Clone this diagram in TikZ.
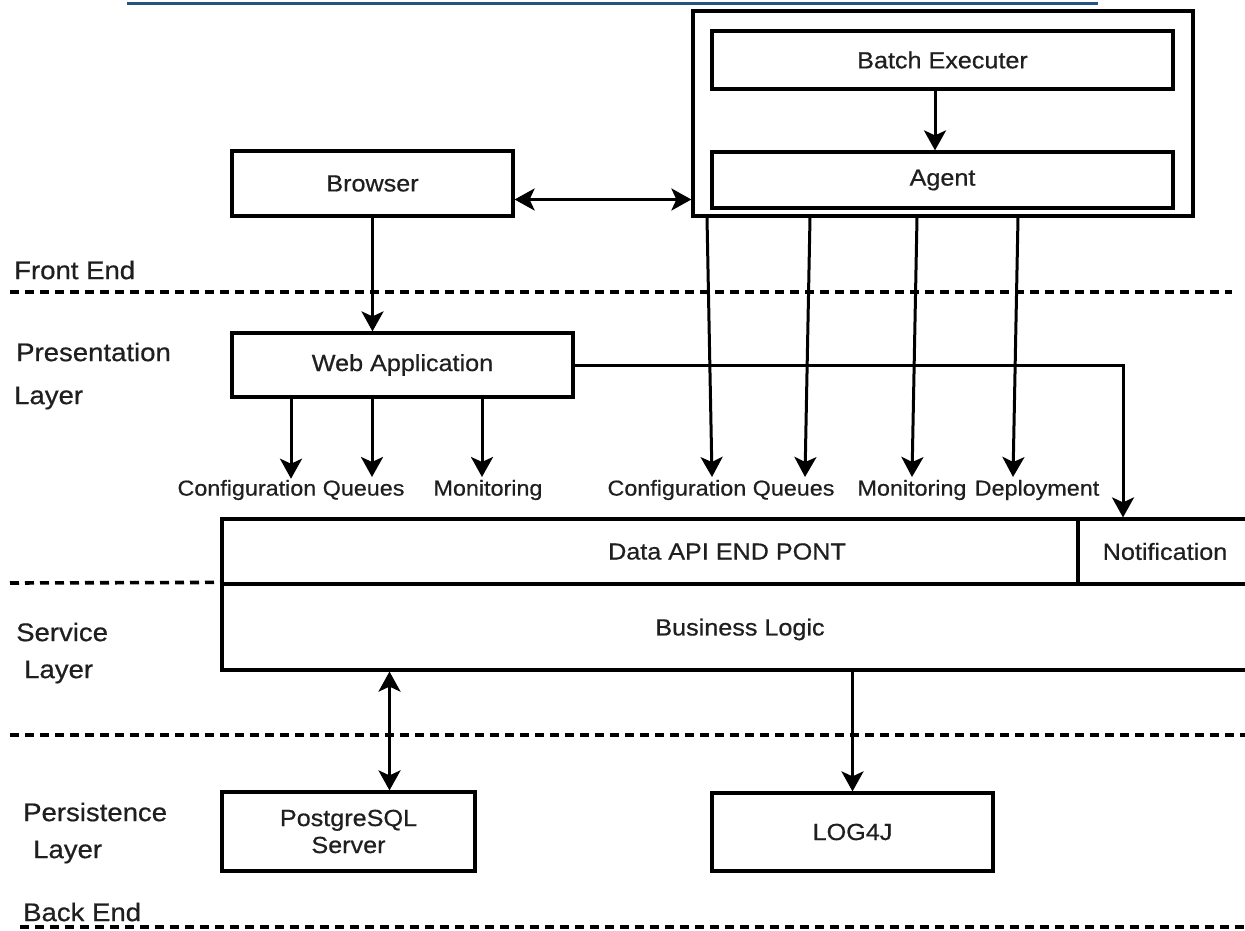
\documentclass[tikz,border=0pt]{standalone}
\usepackage{fontspec}
\setmainfont{Liberation Sans}[FakeStretch=1.08,FakeBold=0.6]
\usetikzlibrary{arrows.meta,calc}
\definecolor{linkblue}{RGB}{38,84,128}
\begin{document}
\begin{tikzpicture}[x=1pt,y=-1pt,
        box/.style={draw,line width=3.2pt,fill=white,inner sep=0pt,text=black!88,font=\fontsize{23.3}{27}\selectfont,align=center},
        lbl/.style={inner sep=1pt,text=black!88,font=\fontsize{21.6}{25}\selectfont},
        layer/.style={inner sep=0pt,anchor=west,text=black!88,font=\fontsize{25.5}{30}\selectfont},
        arr/.style={line width=3pt,-{Stealth[length=20pt,width=22pt,inset=5pt]}},
        dbl/.style={line width=3pt,{Stealth[length=20pt,width=22pt,inset=5pt]}-{Stealth[length=20pt,width=22pt,inset=5pt]}},
        sep/.style={line width=3.6pt,dash pattern=on 9pt off 6pt}]
                        \useasboundingbox (0,0) rectangle (1245,931);
                        \clip (0,0) rectangle (1245,931);
                        \draw[linkblue,line width=3pt] (127,4) -- (1098,4);
                        \node[box,minimum width=500pt,minimum height=205pt] (agentbox) at (943,113.5) {};
                        \node[box,minimum width=461pt,minimum height=58pt] (batch) at (942.5,60) {Batch Executer};
                        \node[box,minimum width=461pt,minimum height=56pt] (agent) at (942.5,180) {Agent};
                        \node[box,minimum width=281pt,minimum height=65pt] (browser) at (372.5,183.5) {Browser};
                        \node[box,minimum width=341pt,minimum height=64pt] (webapp) at (402.5,365) {Web Application};
                        \node[box,minimum width=1010pt,minimum height=65pt] (dataapi) at (727,551.5) {Data API END PONT};
                        \node[box,minimum width=174pt,minimum height=65pt] (notif) at (1165,551.5) {Notification};
                        \node[box,minimum width=1036pt,minimum height=86pt,text depth=-6pt] (business) at (740,627) {Business Logic};
                        \node[box,minimum width=253pt,minimum height=79pt] (postgres) at (348.5,831.5) {PostgreSQL\\Server};
                        \node[box,minimum width=281pt,minimum height=78pt] (log4j) at (852.5,832) {LOG4J};
                        \node[lbl] (cq1) at (291,490) {Configuration Queues};
                        \node[lbl] (mon1) at (488,490) {Monitoring};
                        \node[lbl] (cq2) at (721,490) {Configuration Queues};
                        \node[lbl] (mon2) at (912,490) {Monitoring};
                        \node[lbl] (dep) at (1037,490) {Deployment};
                        \node[layer] (front) at (14,270) {Front End};
                        \node[layer] (pres) at (16,352) {Presentation};
                        \node[layer] (presl) at (14,398) {Layer};
                        \node[layer] (serv) at (16,632) {Service};
                        \node[layer] (servl) at (24,672) {Layer};
                        \node[layer] (pers) at (23,812) {Persistence};
                        \node[layer] (persl) at (33,852) {Layer};
                        \node[layer] (back) at (23,912) {Back End};
                        \draw[sep] (10,292) -- (1232,292);
                        \draw[sep] (10,583) -- (business.north west);
                        \draw[sep] (10,735) -- (1245,735);
                        \draw[sep] (20,927) -- (1245,927);
                        \coordinate (bx) at ([yshift=-16pt]browser.east);
                        \coordinate (q1) at (372,477);
                        \coordinate (m1) at (482,477);
                        \coordinate (e1) at (712,477);
                        \coordinate (e2) at (805,477);
                        \coordinate (e3) at (912,477);
                        \coordinate (e4) at (1013,477);
                        \draw[arr] (batch.south -| 935,0) -- (agent.north -| 935,0);
                        \draw[dbl] (bx) -- (bx -| agentbox.west);
                        \draw[arr] (browser.south) -- (browser.south |- webapp.north);
                        \draw[arr] (webapp.south -| cq1.north) -- (cq1.north);
                        \draw[arr] (webapp.south -| q1) -- (q1);
                        \draw[arr] (webapp.south -| m1) -- (m1);
                        \foreach \i/\dx in {1/-236,2/-133,3/-26,4/75}
                                \draw[arr] ([xshift=\dx pt]agentbox.south) -- (e\i);
                        \draw[arr] (webapp.east) -| ([xshift=-42pt]notif.north);
                        \draw[dbl] ([xshift=41pt]postgres.north |- business.south) -- ([xshift=41pt]postgres.north);
                        \draw[arr] (log4j.north |- business.south) -- (log4j.north);
                \end{tikzpicture}
\end{document}
